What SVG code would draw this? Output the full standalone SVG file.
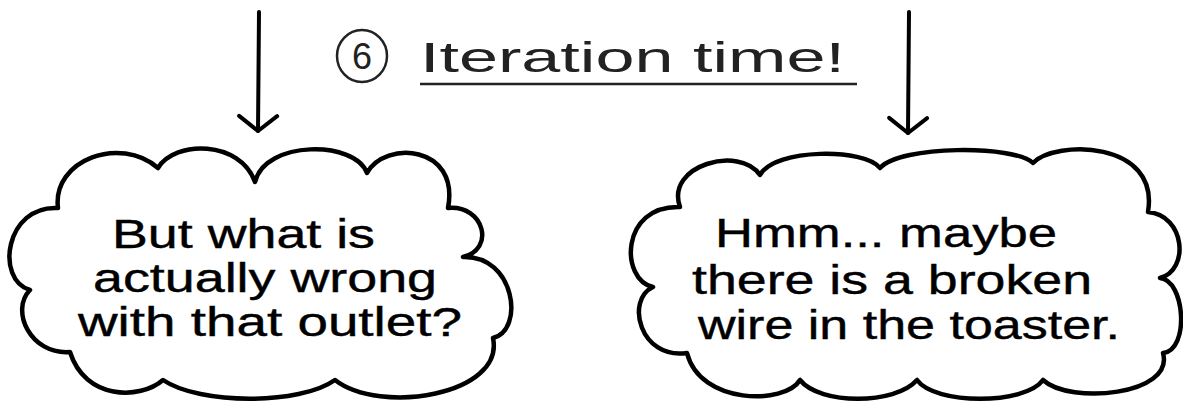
<svg xmlns="http://www.w3.org/2000/svg" width="1183" height="402" viewBox="0 0 1183 402">
  <style>
    .cloud { fill: #ffffff; stroke: #000000; stroke-width: 4.5; stroke-linejoin: round; }
    .conn { fill: none; stroke: #000000; stroke-width: 4; stroke-linecap: round; }
    .say { font-family: "Liberation Sans", "DejaVu Sans", sans-serif; font-size: 40px; fill: #000000; stroke: #000000; stroke-width: 0.4; }
    .title { font-family: "Liberation Sans", "DejaVu Sans", sans-serif; font-size: 42px; fill: #222222; }
  </style>
  <defs>
    <marker id="chev" markerUnits="userSpaceOnUse" viewBox="-20 -24 26 48" markerWidth="26" markerHeight="48" refX="0" refY="0" orient="auto" overflow="visible">
      <path d="M-15,-19 L0,0 L-15,19" fill="none" stroke="#000000" stroke-width="4" stroke-linecap="round" stroke-linejoin="round"/>
    </marker>
  </defs>
  <rect width="1183" height="402" fill="#ffffff"/>

  <g id="connectors">
    <line class="conn" x1="259" y1="12" x2="258" y2="131" marker-end="url(#chev)"/>
    <line class="conn" x1="909" y1="12" x2="908" y2="133" marker-end="url(#chev)"/>
  </g>

  <g id="title">
    <ellipse cx="362" cy="56" rx="25" ry="26" fill="none" stroke="#222222" stroke-width="2.5"/>
    <text x="362" y="69" text-anchor="middle" class="title" style="font-size:36px">6</text>
    <text x="420" y="72" class="title" textLength="425" lengthAdjust="spacingAndGlyphs">Iteration time!</text>
    <line x1="420" y1="84" x2="857" y2="84" stroke="#222222" stroke-width="2.5"/>
  </g>

  <g id="cloud-left">
    <path class="cloud" d="M58,208 C52,160 120,135 158,168 C175,140 240,140 255,182 C265,140 355,140 367,173 C385,140 460,145 448,208 C485,205 495,250 463,257 C515,255 525,330 493,338 C505,395 380,415 335,380 C300,405 200,405 163,380 C140,400 85,400 70,352 C30,355 10,310 30,290 C-5,280 5,205 58,208 Z"/>
    <text class="say" x="112" y="248" textLength="263" lengthAdjust="spacingAndGlyphs">But what is</text>
    <text class="say" x="93" y="292" textLength="344" lengthAdjust="spacingAndGlyphs">actually wrong</text>
    <text class="say" x="78" y="336" textLength="384" lengthAdjust="spacingAndGlyphs">with that outlet?</text>
  </g>

  <g id="cloud-right">
    <path class="cloud" d="M680,207 C665,165 740,145 760,175 C775,148 865,148 880,168 C900,145 1015,145 1033,163 C1055,140 1160,140 1148,212 C1185,215 1190,270 1160,278 C1185,280 1190,350 1163,353 C1175,395 1070,405 1043,380 C1025,405 935,405 917,380 C895,405 820,405 800,380 C785,405 700,405 687,353 C640,360 625,300 653,287 C620,280 620,205 680,207 Z"/>
    <text class="say" x="715" y="247" textLength="342" lengthAdjust="spacingAndGlyphs">Hmm... maybe</text>
    <text class="say" x="692" y="294" textLength="400" lengthAdjust="spacingAndGlyphs">there is a broken</text>
    <text class="say" x="698" y="339" textLength="422" lengthAdjust="spacingAndGlyphs">wire in the toaster.</text>
  </g>
</svg>
